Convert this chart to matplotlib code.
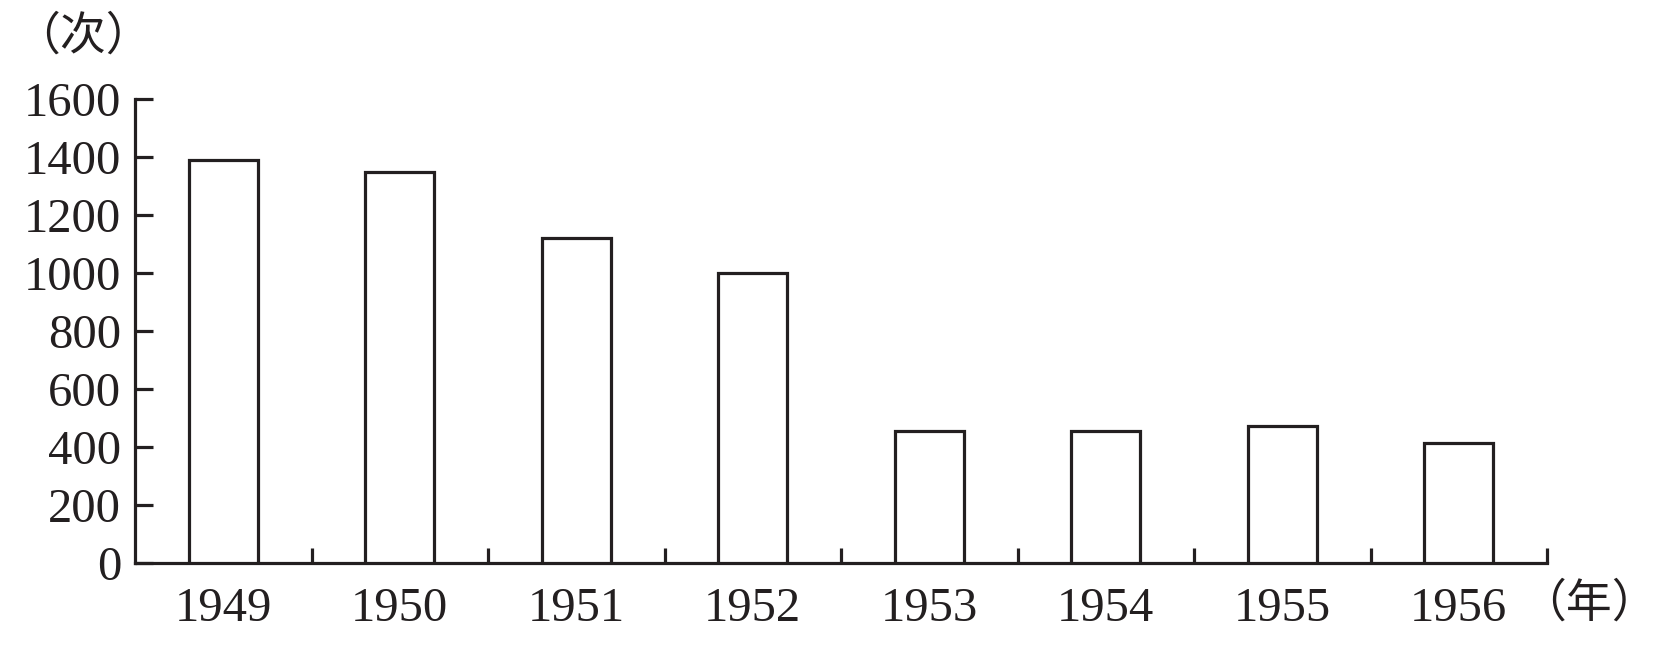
import matplotlib
matplotlib.use('Agg')
import matplotlib.pyplot as plt
import numpy as np

years = ['1949', '1950', '1951', '1952', '1953', '1954', '1955', '1956']
counts = [1390, 1350, 1120, 1000, 456, 456, 471, 414]
yticks = [0, 200, 400, 600, 800, 1000, 1200, 1400, 1600]

INK = '#231f20'
LW = 2.3
plt.rcParams['font.family'] = ['Liberation Serif', 'Noto Sans CJK SC']

fig = plt.figure(figsize=(16.58, 6.51), dpi=100)
ax = fig.add_axes([135/1658, 1-563/651, (1547-135)/1658, (563-99)/651])

x = np.arange(len(years))
ax.bar(x, counts, width=0.39, facecolor='white', edgecolor=INK, linewidth=LW, zorder=3)

ax.set_xlim(-0.5, len(years)-0.5)
ax.set_ylim(0, 1600)
ax.set_yticks(yticks)
ax.set_yticklabels([str(v) for v in yticks])
ax.set_xticks(x)
ax.set_xticklabels(years)
ax.set_xticks(np.arange(0.5, len(years)), minor=True)

for s in ['top', 'right']:
    ax.spines[s].set_visible(False)
for s in ['left', 'bottom']:
    ax.spines[s].set_linewidth(LW)
    ax.spines[s].set_color(INK)

ax.tick_params(axis='y', direction='in', length=13, width=LW, color=INK,
               labelsize=35, labelcolor=INK, pad=10)
ax.tick_params(axis='x', which='major', length=0, labelsize=35, labelcolor=INK, pad=17)
ax.tick_params(axis='x', which='minor', direction='in', length=11, width=LW, color=INK)

fig.text(83/1658, 1-36/651, '（次）', family=['Noto Sans CJK SC'], fontsize=33,
         color=INK, ha='center', va='center')
fig.text(1589/1658, 1-603/651, '（年）', family=['Noto Sans CJK SC'], fontsize=33,
         color=INK, ha='center', va='center')

fig.savefig('out.png', dpi=100, facecolor='white')
